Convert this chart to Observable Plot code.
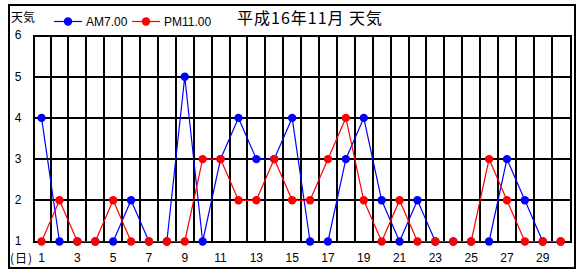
<!DOCTYPE html>
<html><head><meta charset="utf-8">
<script src="https://cdn.jsdelivr.net/npm/d3@7"></script>
<script src="https://cdn.jsdelivr.net/npm/@observablehq/plot@0.6"></script>
<style>
body{margin:0;background:#fff}
#chart svg{display:block}
</style>
</head><body><div id="chart"></div>
<script>
const days = d3.range(1, 31);
const am = [4,1,1,1,1,2,1,1,5,1, 3,4,3,3,4,1,1,3,4,2, 1,2,1,1,1,1,3,2,1,1];
const pm = [1,2,1,1,2,1,1,1,1,3, 3,2,2,3,2,2,3,4,2,1, 2,1,1,1,1,3,2,1,1,1];
const yTicks = [1,2,3,4,5,6];
const xTicks = [1,3,5,7,9,11,13,15,17,19,21,23,25,27,29];
const gridX = d3.range(1, 30).map(d => d + 0.5);
const gridY = [2,3,4,5];
const series = [
  {name: "AM7.00", values: am, color: "#0000ff"},
  {name: "PM11.00", values: pm, color: "#ff0000"}
];
const title = "平成16年11月 天気";
const yLabel = "天気";
const xLabel = "(日)";

const rows = series.flatMap(s => days.map((d, i) => ({day: d, v: s.values[i], s: s.name})));
const amRows = rows.filter(r => r.s === "AM7.00");
const pmRows = rows.filter(r => r.s === "PM11.00");

const font = "'Liberation Sans Narrow','Liberation Sans',sans-serif";
const plot = Plot.plot({
  width: 587, height: 278,
  marginLeft: 33, marginRight: 17, marginTop: 35, marginBottom: 37,
  style: {fontFamily: font, fontSize: "12px", color: "#000", background: "#fff"},
  x: {domain: [0.55, 30.55], label: null},
  y: {domain: [1, 6], label: null},
  marks: [
    Plot.ruleX(gridX, {stroke: "#000", strokeWidth: 2, shapeRendering: "crispEdges"}),
    Plot.ruleY(gridY, {stroke: "#000", strokeWidth: 2, shapeRendering: "crispEdges"}),
    Plot.frame({stroke: "#000", strokeWidth: 2, shapeRendering: "crispEdges"}),
    Plot.axisY(yTicks, {tickSize: 0, tickPadding: 12, fill: "#000", fontSize: 12, label: null}),
    Plot.axisX(xTicks, {tickSize: 0, tickPadding: 12, fill: "#000", fontSize: 12, label: null, tickFormat: d => String(d)}),
    Plot.line(amRows, {x: "day", y: "v", stroke: series[0].color, strokeWidth: 1.2}),
    Plot.dot(amRows, {x: "day", y: "v", fill: series[0].color, r: 4.2}),
    Plot.line(pmRows, {x: "day", y: "v", stroke: series[1].color, strokeWidth: 1.2}),
    Plot.dot(pmRows, {x: "day", y: "v", fill: series[1].color, r: 4.2})
  ]
});
document.getElementById("chart").append(plot);

const svg = d3.select(plot);
const extra = svg.append("g").attr("text-anchor", "start");
// outer border
extra.append("rect").attr("x", 9).attr("y", 5).attr("width", 566).attr("height", 263)
  .attr("fill", "none").attr("stroke", "#000").attr("stroke-width", 2).attr("shape-rendering", "crispEdges");
// y label
extra.append("text").attr("x", 11).attr("y", 22).attr("font-family", "'Noto Sans CJK JP',sans-serif")
  .attr("font-size", 12).attr("fill", "#000").text(yLabel);
// x label
extra.append("text").attr("x", 10).attr("y", 263).attr("font-family", "'Noto Sans CJK JP',sans-serif")
  .attr("font-size", 12).attr("letter-spacing", 1).attr("fill", "#000").text(xLabel);
// title
extra.append("text").attr("x", 237).attr("y", 24).attr("font-family", "'Noto Sans CJK JP',sans-serif")
  .attr("font-size", 16).attr("letter-spacing", 1).attr("fill", "#000").text(title);
// legend
const lg = [{x: 54, s: series[0]}, {x: 132, s: series[1]}];
lg.forEach(l => {
  const g = extra.append("g");
  g.append("line").attr("x1", l.x).attr("x2", l.x + 28).attr("y1", 21.5).attr("y2", 21.5)
    .attr("stroke", l.s.color).attr("stroke-width", 1.2);
  g.append("circle").attr("cx", l.x + 14).attr("cy", 21.5).attr("r", 4.2).attr("fill", l.s.color);
  g.append("text").attr("x", l.x + 32).attr("y", 26).attr("font-family", font)
    .attr("font-size", 12).attr("fill", "#000").text(l.s.name);
});
</script>
</body></html>
